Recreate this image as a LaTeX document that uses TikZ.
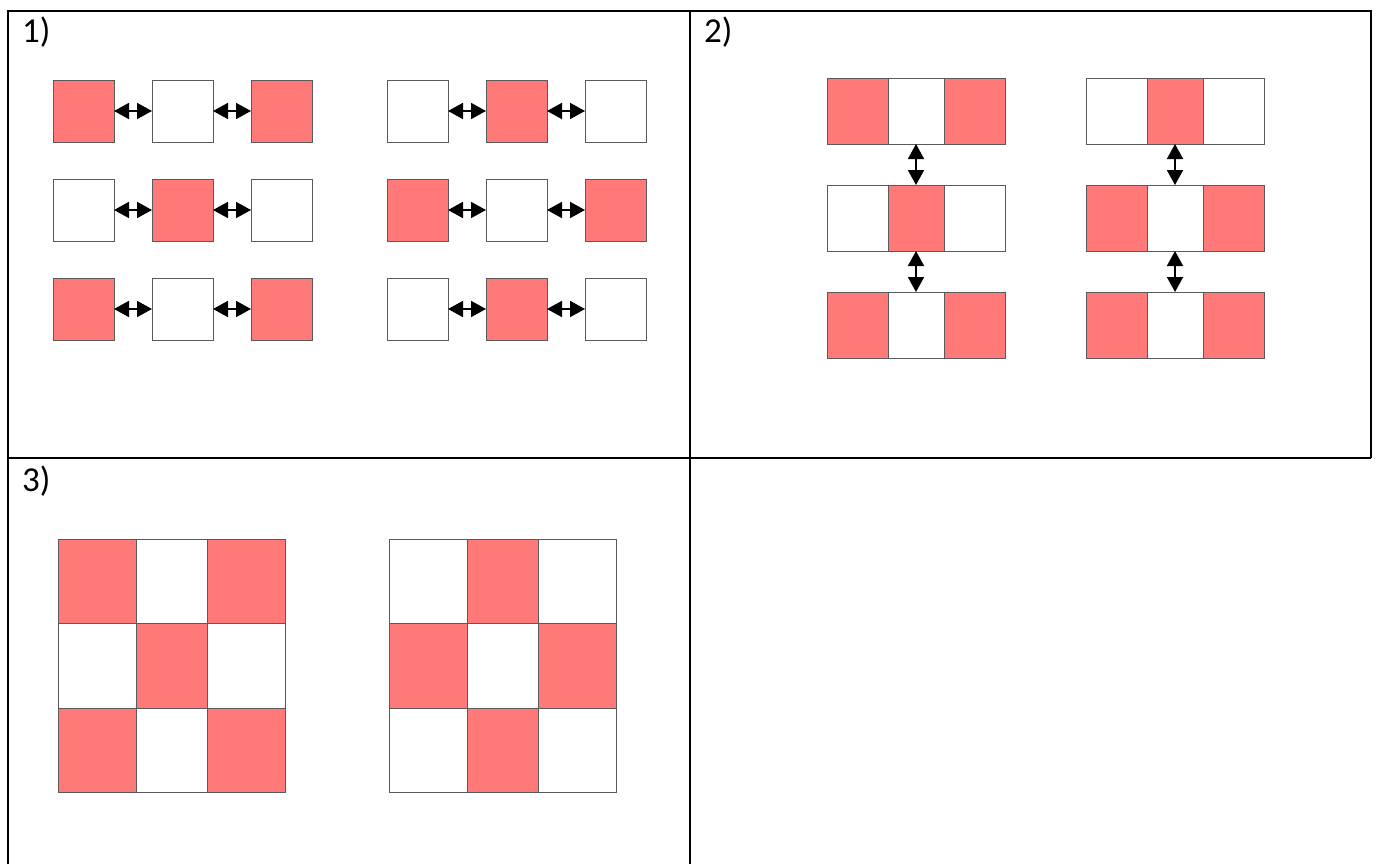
\documentclass[tikz,border=0pt]{standalone}
\usepackage{fontspec}
\setmainfont{Carlito}
\usetikzlibrary{arrows.meta}
\definecolor{cellred}{RGB}{255,121,121}
\definecolor{cellline}{RGB}{90,90,90}
\begin{document}
\begin{tikzpicture}[x=1pt,y=-1pt]
\tikzset{
  cell/.style={draw=cellline,line width=0.9pt,inner sep=0pt,outer sep=0pt,anchor=north west},
  cellon/.style={cell,fill=cellred},
  celloff/.style={cell,fill=white},
  sq/.style={minimum width=61pt,minimum height=62pt},
  dbl/.style={{Triangle[length=15pt,width=16pt]}-{Triangle[length=15pt,width=16pt]},line width=1.8pt},
  frame/.style={line width=2.8pt},
  tag/.style={anchor=base west,inner sep=0pt,font=\fontsize{35}{40}\selectfont}
}
\useasboundingbox (0,0) rectangle (1380,864);
% the table
\draw[frame] (8,864) -- (8,11) -- (1371,11) -- (1371,458);
\draw[frame] (8,458) -- (1371,458);
\draw[frame] (690,11) -- (690,864);
\node[tag] (t1) at (22,43) {1)};
\node[tag] (t2) at (704,43) {2)};
\node[tag] (t3) at (22,491) {3)};
%%% 1) rows of single squares
\foreach \r/\y/\a/\b/\c/\d/\e/\f in {1/80/on/off/on/off/on/off,
    2/179/off/on/off/on/off/on, 3/278/on/off/on/off/on/off}{
  \node[cell\a,sq] (la\r) at (53,\y) {};
  \node[cell\b,sq] (lb\r) at (152,\y) {};
  \node[cell\c,sq] (lc\r) at (251,\y) {};
  \node[cell\d,sq] (ra\r) at (387,\y) {};
  \node[cell\e,sq] (rb\r) at (486,\y) {};
  \node[cell\f,sq] (rc\r) at (585,\y) {};
  \draw[dbl] (la\r) -- (lb\r);
  \draw[dbl] (lb\r) -- (lc\r);
  \draw[dbl] (ra\r) -- (rb\r);
  \draw[dbl] (rb\r) -- (rc\r);
}
%%% 2) strips of three
\foreach \r/\y/\a/\b/\c/\d/\e/\f in {1/78/on/off/on/off/on/off,
    2/185/off/on/off/on/off/on, 3/292/on/off/on/on/off/on}{
  \node[cell\a,minimum width=61pt,minimum height=66pt] (sa\r) at (827,\y) {};
  \node[cell\b,minimum width=56pt,minimum height=66pt] (sb\r) at (888,\y) {};
  \node[cell\c,minimum width=61pt,minimum height=66pt] (sc\r) at (944,\y) {};
  \node[cell\d,minimum width=61pt,minimum height=66pt] (ta\r) at (1086,\y) {};
  \node[cell\e,minimum width=56pt,minimum height=66pt] (tb\r) at (1147,\y) {};
  \node[cell\f,minimum width=61pt,minimum height=66pt] (tc\r) at (1203,\y) {};
}
\foreach \r/\s in {1/2,2/3}{
  \draw[dbl] (sb\r) -- (sb\s);
  \draw[dbl] (tb\r) -- (tb\s);
}
%%% 3) the two grids
\foreach \r/\y/\h/\a/\b/\c/\d/\e/\f in {1/539/84/on/off/on/off/on/off,
    2/623/85/off/on/off/on/off/on, 3/708/84/on/off/on/off/on/off}{
  \node[cell\a,minimum width=78pt,minimum height=\h pt] (ga\r) at (58,\y) {};
  \node[cell\b,minimum width=71pt,minimum height=\h pt] (gb\r) at (136,\y) {};
  \node[cell\c,minimum width=78pt,minimum height=\h pt] (gc\r) at (207,\y) {};
  \node[cell\d,minimum width=78pt,minimum height=\h pt] (ha\r) at (389,\y) {};
  \node[cell\e,minimum width=71pt,minimum height=\h pt] (hb\r) at (467,\y) {};
  \node[cell\f,minimum width=78pt,minimum height=\h pt] (hc\r) at (538,\y) {};
}
\end{tikzpicture}
\end{document}
